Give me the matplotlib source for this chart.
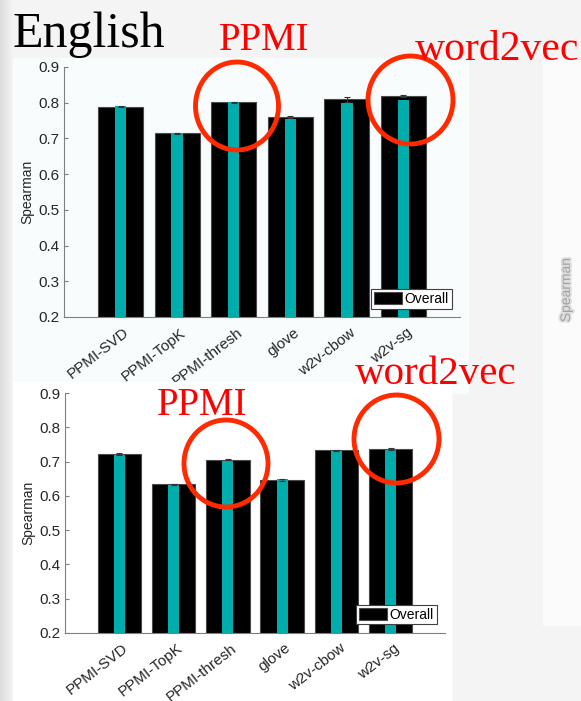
import numpy as np
import matplotlib.pyplot as plt
from matplotlib.patches import Rectangle, Ellipse
from matplotlib.transforms import ScaledTranslation
import matplotlib.patheffects as pe

methods = ['PPMI-SVD', 'PPMI-TopK', 'PPMI-thresh', 'glove', 'w2v-cbow', 'w2v-sg']

# upper panel (English)
top_overall = [0.789, 0.714, 0.801, 0.759, 0.810, 0.819]
top_err = [0.002, 0.002, 0.002, 0.003, 0.007, 0.003]
top_inner = [0.791, 0.716, 0.802, 0.755, 0.800, 0.808]

# lower panel
bot_overall = [0.722, 0.634, 0.706, 0.647, 0.733, 0.737]
bot_err = [0.002, 0.002, 0.002, 0.002, 0.002, 0.004]
bot_inner = [0.720, 0.631, 0.703, 0.650, 0.730, 0.734]

yticks = [0.2, 0.3, 0.4, 0.5, 0.6, 0.7, 0.8, 0.9]

W, H = 581, 701
fig = plt.figure(figsize=(W / 100, H / 100), dpi=100)
fig.patch.set_facecolor('#f4f4f4')


def box(x0, y0, x1, y1):
    # pixel box (origin top-left) -> figure fraction rect
    return [x0 / W, 1 - y1 / H, (x1 - x0) / W, (y1 - y0) / H]


def pixel_axes(z):
    a = fig.add_axes([0, 0, 1, 1], zorder=z)
    a.set_xlim(0, W)
    a.set_ylim(H, 0)
    a.set_facecolor('none')
    a.axis('off')
    return a


# slide backdrop
bg = pixel_axes(0)
grad = np.linspace(0.86, 0.96, 14)
bg.imshow(np.tile(grad, (2, 1)), cmap='gray', vmin=0, vmax=1, aspect='auto',
          extent=(0, 14, H, 0))
bg.add_patch(Rectangle((543, 60), 40, 565, color='#fbfbfb'))
bg.text(566, 290, 'Spearman', rotation=90, ha='center', va='center', fontsize=10,
        family='Liberation Sans', color='#a0a0a0',
        path_effects=[pe.withStroke(linewidth=2.5, foreground='#dedede')])
bg.add_patch(Rectangle((13, 58), 455, 335, color='#f8fcfd'))


def draw_chart(ax, overall, err, inner):
    x = np.arange(1, len(methods) + 1)
    ax.bar(x, overall, 0.8, color='black', edgecolor='#4a4a4a', linewidth=0.8,
           label='Overall')
    ax.bar(x, inner, 0.2, color='#00adad', linewidth=0)
    ax.errorbar(x, overall, yerr=err, fmt='none', ecolor='#333333',
                elinewidth=0.8, capsize=2, capthick=0.8)
    ax.set_xlim(0, 7)
    ax.set_ylim(0.2, 0.9)
    ax.set_facecolor('none')
    ax.set_yticks(yticks)
    ax.set_yticklabels(['%.1f' % v for v in yticks])
    ax.tick_params(axis='x', length=0, pad=10)
    ax.tick_params(axis='y', direction='in', length=3, width=0.8,
                   color='#808080', labelsize=11, labelcolor='#262626')
    ax.set_xticks(x)
    ax.set_xticklabels(methods, rotation=38, ha='right', va='center',
                       rotation_mode='anchor', fontsize=11, color='#262626')
    # nudge the slanted labels to the right of each bar centre
    shift = ScaledTranslation(7 / 100, 0, fig.dpi_scale_trans)
    for lab in ax.get_xticklabels():
        lab.set_transform(lab.get_transform() + shift)
    for s in ['top', 'right']:
        ax.spines[s].set_visible(False)
    for s in ['left', 'bottom']:
        ax.spines[s].set_color('#808080')
        ax.spines[s].set_linewidth(0.8)
    ax.set_ylabel('Spearman', fontsize=10, color='#262626', labelpad=3)
    leg = ax.legend(loc='lower right', fontsize=10, fancybox=False,
                    framealpha=1, edgecolor='#404040', borderpad=0.2,
                    handlelength=2.0, handleheight=0.9, handletextpad=0.2,
                    borderaxespad=0.6)
    leg.get_frame().set_linewidth(0.8)


plt.rcParams['font.family'] = ['Liberation Sans', 'DejaVu Sans']

ax1 = fig.add_axes(box(64, 67, 460, 317), zorder=1)
draw_chart(ax1, top_overall, top_err, top_inner)

# second slide image sits on top of the first one's tick labels
cover = pixel_axes(2)
cover.add_patch(Rectangle((13, 382), 438, 330, color='white'))

ax2 = fig.add_axes(box(65, 393.3, 445, 632.7), zorder=3)
draw_chart(ax2, bot_overall, bot_err, bot_inner)

# titles and red call-outs
ov = pixel_axes(4)
serif = 'Liberation Serif'
ov.text(13, 47, 'English', fontsize=36, family=serif, color='black', va='baseline')
ov.text(219, 50, 'PPMI', fontsize=28, family=serif, color='#ff0000', va='baseline')
ov.text(415, 60, 'word2vec', fontsize=30, family=serif, color='#ff0000', va='baseline')
ov.text(157, 415, 'PPMI', fontsize=28, family=serif, color='#ff0000', va='baseline')
ov.text(355, 384, 'word2vec', fontsize=29.5, family=serif, color='#ff0000', va='baseline')

ring = dict(fill=False, edgecolor='#ff2a00', linewidth=3.5)
ov.add_patch(Ellipse((237, 106), 83, 88, **ring))
ov.add_patch(Ellipse((410.5, 100), 85, 88, **ring))
ov.add_patch(Ellipse((226, 463.5), 84, 87, **ring))
ov.add_patch(Ellipse((396.5, 439), 85, 88, **ring))

fig.savefig('out.png', dpi=100, facecolor=fig.get_facecolor())
